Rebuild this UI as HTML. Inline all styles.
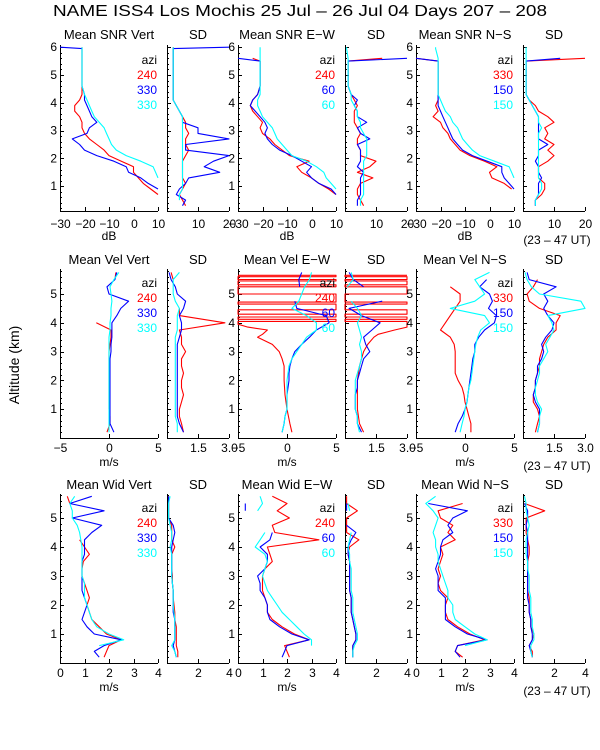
<!DOCTYPE html>
<html><head><meta charset="utf-8"><style>
html,body{margin:0;padding:0;background:#fff;}
svg{display:block;font-family:"Liberation Sans",sans-serif;}
</style></head><body>
<svg id="chart" width="600" height="750" viewBox="0 0 600 750" xmlns="http://www.w3.org/2000/svg">
<rect width="600" height="750" fill="#fff"/>
<text x="53" y="16" font-size="16" textLength="494" lengthAdjust="spacingAndGlyphs">NAME ISS4 Los Mochis  25 Jul – 26 Jul 04 Days 207 – 208</text>
<text transform="translate(19,365) rotate(-90)" font-size="14" text-anchor="middle">Altitude (km)</text>
</svg>
<script>
// ---- altitude grids (km) ----
const altRow1 = [0.3,0.5,0.7,0.9,1.1,1.3,1.5,1.7,1.9,2.1,2.3,2.5,2.7,2.9,3.1,3.3,3.5,3.7,3.9,4.1,4.3,4.6,5.0,5.5,5.6,5.95,6.0];
const altRow2 = [0.2,0.5,0.75,1,1.25,1.5,1.75,2,2.25,2.5,2.75,3,3.25,3.5,3.75,4,4.25,4.5,4.75,5,5.25,5.5,5.75];
const altRow3 = [0.2,0.4,0.6,0.8,1,1.25,1.5,1.75,2,2.25,2.5,2.75,3,3.25,3.5,3.75,4,4.25,4.5,4.75,5,5.25,5.5,5.75];
const altVelEwRed = [0.2,0.5,1,1.5,2,2.5,2.75,3,3.25,3.5,3.6,3.75,3.85,3.95,
  4.05,4.05,4.12,4.12,4.2,4.2,4.3,4.3,4.45,4.45,4.65,4.65,4.72,4.72,5.0,5.0,5.25,5.25,5.32,5.32,5.45,5.45,5.5,5.5,5.6,5.6,5.65,5.65];

// ---- SNR (dB) ----
const snrVertRed  = [8,null,10,7,4,2,0,0,-5,-10,-12,-15,-18,-20,-21,-21,-22,-24,-24,-22,-21,-21,-21,-21,-21,-21,-21];
const snrVertBlue = [10,null,null,10,6,3,-2,-3,-8,-15,-20,-22,-25,-19,-18,-15,-17,-18,-19,-20,-20,-21,-21,-21,-21,-21,-30];
const snrVertCyan = [null,null,null,null,null,10,9,8,3,-3,-7,-9,-10,-11,-12,-14,-16,-17,-18,-19,-20,-21,-21,-21,-21,-21,-21];
const sdSnrVertRed  = [6,5,4,5,6,5,5,5,5,6,7,6,6,7,6,6,5,4,3,2,2,2,2,2,2,2,2];
const sdSnrVertBlue = [5,6,3,4,6,7,17,12,15,20,6,6,20,10,10,5,5,4,3,2,2,2,2,2,2,2,20];
const sdSnrVertCyan = [null,4,4,5,5,5,5,5,5,5,5,5,5,5,5,5,5,4,3,2,2,2,2,2,2,2,2];
const snrEwRed  = [8,null,10,7,3,0,-4,-6,-1,-9,-12,-15,-17,-20,-21,-20,-22,-24,-25,-24,-22,-21,-21,-21,-24,null,null];
const snrEwBlue = [9,null,10,8,3,0,-2,0,-4,-8,-13,-16,-18,-19,-18,-19,-21,-23,-25,-24,-22,-21,-21,-21,-30,null,null];
const snrEwCyan = [null,null,null,10,8,6,5,2,-2,-8,-10,-12,-14,-15,-16,-18,-20,-21,-22,-22,-21,-21,-21,-21,-21,-21,-21];
const sdSnrEwRed  = [6,5,4,4,5,9,4,8,10,5,5,4,4,5,4,3,3,3,4,3,2,1,1,1,12,null,null];
const sdSnrEwBlue = [4,4,5,5,5,5,6,4,5,5,5,4,8,5,4,7,4,4,3,4,2,1,1,1,20,null,null];
const sdSnrEwCyan = [5,5,6,6,6,6,6,6,6,7,7,7,7,6,5,5,4,4,3,2,2,1,1,1,1,0.5,0.5];
const snrNsRed  = [9,null,null,9,6,1,0,3,-2,-8,-12,-14,-16,-17,-19,-20,-23,-21,-22,-21,-21,-21,-21,-21,-30,null,null];
const snrNsBlue = [null,null,null,10,8,6,5,5,-1,-7,-11,-13,-15,-16,-17,-18,-19,-20,-21,-21,-21,-21,-21,-21,-30,null,null];
const snrNsCyan = [null,null,null,null,null,10,9,8,2,-4,-7,-9,-11,-12,-13,-15,-16,-18,-19,-20,-21,-21,-21,-21,-21,-22,-22];
const sdSnrNsRed  = [4,4,6,7,7,5,5,5,8,10,8,10,7,8,7,10,8,5,4,2,1,1,1,1,20,null,null];
const sdSnrNsBlue = [4,4,5,5,5,6,5,5,4,5,5,8,5,5,5,5,5,4,3,2,1,1,1,1,12,null,null];
const sdSnrNsCyan = [4,4,5,6,6,5,5,5,5,5,5,5,5,5,6,5,5,4,3,2,1,1,1,1,1,1,1];

// ---- Velocity (m/s) ----
const velVertRed  = [-0.2,0.1,0.1,0,0,0,0,0,0,0,0,0,0.1,0.2,0.2,-1.3,null,null,null,null,null,0.6,0.7];
const velVertBlue = [0.5,0.1,0.1,0.1,0.1,0.1,0.1,0.1,0.1,0.1,0.1,0.2,0.2,0.3,0.3,0.3,0.8,1.2,2.0,0,-0.2,0.6,0.8];
const velVertCyan = [0,0,0,0,0,0,0,0,0,0,0,0,0,0,0.1,0.1,0.2,0.2,0.3,0.2,0.1,0.5,1.0];
const sdVelVertRed  = [0.8,0.7,0.6,0.6,0.7,0.8,0.7,0.7,0.8,0.7,0.7,0.9,0.7,0.7,0.6,2.8,0.6,0.6,null,null,null,0.3,0.2];
const sdVelVertBlue = [0.8,0.6,0.5,0.5,0.5,0.5,0.5,0.5,0.5,0.5,0.5,0.5,0.5,0.6,0.7,0.7,0.6,0.8,0.9,0.5,0.4,0.2,0.1];
const sdVelVertCyan = [0.5,0.5,0.4,0.4,0.4,0.4,0.4,0.4,0.4,0.4,0.4,0.4,0.4,0.4,0.5,0.5,0.5,0.6,0.4,0.3,0.3,0.3,0.6];
const velEwRed  = [0.5,0.3,0,-0.2,-0.3,-0.3,-0.5,-0.8,-1.5,-3,-2.5,-2,-4,-5,
  -5,5,5,-5,-5,5,5,-5,-5,5,5,-5,-5,5,5,-5,-5,5,5,-5,-5,5,5,-5,-5,5,5,-5];
const velEwBlue = [-0.5,-0.3,-0.2,0,0,0,0.1,0.2,0.2,0.3,0.5,0.8,1.5,2.3,3,4.3,4.0,1.0,0.8,null,1.3,1.2,1.5];
const velEwCyan = [-0.5,-0.3,-0.2,0,0,0,0,0,0.1,0.2,0.5,1.0,1.5,2,3,3,2,0.5,1.2,1.5,1.8,2.3,2.5];
const sdVelEwRed  = [0.9,0.7,0.6,0.6,0.6,0.7,0.8,0.9,1.1,1.4,1.6,2.4,3,3,
  3,0,0,3,3,0,0,3,3,0,0,3,3,0,0,3,3,0,0,3,3,0,0,3,3,0,0,3];
const sdVelEwBlue = [0.8,0.6,0.6,0.5,0.5,0.5,0.6,0.6,0.7,0.8,0.9,1.2,1.0,0.9,1.3,1.7,0.8,0.2,1.8,null,0.9,0.4,0.2];
const sdVelEwCyan = [0.7,0.6,0.6,0.5,0.5,0.5,0.5,0.5,0.6,0.7,0.8,0.8,0.7,0.8,0.7,0.6,0.8,0.6,0.3,null,0.1,0.4,0.3];
const velNsRed  = [0.6,0.6,0.4,0.2,0.0,-0.1,-0.3,-0.7,-1.0,-1.0,-1.0,-1.0,-1.1,-1.5,-2.5,-2,-1.5,-1.0,-0.5,-0.5,-1.5,null,null];
const velNsBlue = [-1,-0.7,-0.3,0,0.2,0.3,0.4,0.5,0.6,0.7,0.8,1.0,1.0,1.4,2.0,3.0,3.2,2.4,2.8,2.5,1.5,2.2,null];
const velNsCyan = [-0.5,-0.3,-0.1,0,0.2,0.3,0.4,0.6,0.7,0.8,0.9,1.0,1.1,1.3,1.6,2.5,2,-1.5,1.0,2.0,1.5,1.0,2.5];
const sdVelNsRed  = [0.6,0.7,0.8,0.7,0.5,0.5,0.6,0.6,0.7,0.8,0.8,0.9,1.0,1.2,1.6,1.6,1.8,0.8,0.3,0.2,0.5,0.7,null];
const sdVelNsBlue = [0.7,0.8,0.8,0.8,0.6,0.5,0.6,0.6,0.7,0.7,0.9,1.0,0.9,1.1,1.4,1.5,1.2,1.0,1.2,1.0,1.6,0.3,0.2];
const sdVelNsCyan = [0.7,0.8,0.8,0.9,0.7,0.6,0.6,0.7,0.8,0.8,1.0,1.2,1.1,1.3,1.5,1.4,1.2,3.0,2.8,0.8,0.4,0.2,0.1];

// ---- Width (m/s) ----
const widVertRed  = [1.8,1.9,2.0,2.5,1.9,1.6,1.3,1.2,1.1,1.2,1.1,1.0,0.9,0.9,0.95,1.2,1.0,0.8,null,null,null,null,0.4,0.3];
const widVertBlue = [1.6,1.4,1.8,2.5,1.4,1.1,0.9,1.0,1.1,1.0,0.9,0.9,0.9,0.9,0.9,1.0,1.0,1.0,1.3,1.7,0.5,1.8,0.4,1.3];
const widVertCyan = [null,null,1.6,2.6,2.0,1.5,1.3,1.2,1.1,1.0,1.0,1.0,0.9,0.9,0.9,0.9,0.9,0.85,0.8,0.7,0.5,0.5,0.4,0.6];
const sdWidVertRed  = [0.7,0.7,0.6,0.6,0.6,0.6,0.5,0.5,0.45,0.4,0.4,0.35,0.35,0.3,0.3,0.3,0.5,0.3,0.3,0.3,0.1,0.1,0.1,0.1];
const sdWidVertBlue = [0.6,0.5,0.4,0.5,0.5,0.5,0.5,0.4,0.4,0.4,0.4,0.35,0.3,0.3,0.3,0.3,0.3,0.4,0.5,0.4,0.1,0.1,0.1,0.1];
const sdWidVertCyan = [0.6,0.5,0.3,0.5,0.5,0.5,0.5,0.45,0.4,0.4,0.4,0.35,0.3,0.3,0.3,0.3,0.2,0.3,0.3,0.2,0.1,0.1,0.1,0.2];
const widEwRed  = [2.1,2.0,1.9,2.9,2.3,1.8,1.4,1.2,1.2,1.1,1.0,1.0,1.0,1.1,1.4,1.3,1.2,3.3,1.5,1.4,2.1,1.6,2.0,1.4];
const widEwBlue = [1.8,1.9,2.0,2.9,2.2,1.7,1.3,1.2,1.2,1.1,0.9,0.9,0.8,1.1,1.2,1.2,0.9,1.3,1.4,null,null,0.3,0.3,null];
const widEwCyan = [null,null,3.0,3.0,2.7,2.4,2.1,1.8,1.6,1.4,1.2,1.1,1.0,1.1,1.2,1.1,0.7,0.9,1.1,null,null,0.8,1.0,0.9];
const sdWidEwRed  = [0.5,0.5,0.5,0.7,0.7,0.6,0.5,0.4,0.4,0.4,0.3,0.3,0.3,0.3,0.3,0.2,0.3,0.9,0.1,0.1,0.1,0.8,0.1,0.1];
const sdWidEwBlue = [0.5,0.5,0.5,0.7,0.7,0.6,0.5,0.4,0.4,0.4,0.3,0.3,0.3,0.3,0.3,0.2,0.2,0.4,0.7,0.1,null,0.1,0.1,null];
const sdWidEwCyan = [0.5,0.5,0.6,0.8,0.8,0.7,0.6,0.5,0.5,0.5,0.4,0.4,0.4,0.4,0.3,0.3,0.2,0.3,0.4,null,null,0.3,0.2,null];
const widNsRed  = [1.9,1.6,1.7,2.8,2.2,1.7,1.3,1.2,1.2,1.3,1.0,0.9,1.0,0.9,1.0,1.1,1.0,1.6,1.3,1.5,1.0,0.9,1.9,null];
const widNsBlue = [1.8,1.6,1.7,2.9,2.1,1.6,1.2,1.2,1.2,1.2,0.9,0.9,0.9,0.8,0.9,1.0,1.0,1.1,1.5,1.3,1.5,2.1,0.5,null];
const widNsCyan = [null,null,2.0,2.9,2.4,2.0,1.6,1.5,1.5,1.3,1.3,1.2,1.1,1.0,0.9,0.9,0.8,0.8,0.7,0.8,0.9,0.7,0.4,0.8];
const sdWidNsRed  = [0.6,0.6,0.4,0.6,0.7,0.5,0.5,0.4,0.4,0.4,0.3,0.3,0.3,0.3,0.3,0.4,0.4,0.3,0.2,0.2,0.2,1.4,0.1,null];
const sdWidNsBlue = [0.6,0.5,0.4,0.6,0.6,0.5,0.5,0.4,0.4,0.3,0.3,0.3,0.3,0.3,0.3,0.3,0.3,0.3,0.3,0.2,0.3,0.3,0.1,null];
const sdWidNsCyan = [0.6,0.5,0.5,0.7,0.7,0.6,0.6,0.5,0.5,0.5,0.4,0.4,0.4,0.3,0.3,0.2,0.2,0.2,0.3,0.4,0.3,0.2,0.2,0.1];

const legendAziVert = ['240','330','330'];
const legendAziEw = ['240','60','60'];
const legendAziNs = ['330','150','150'];

const svg = document.getElementById('chart');
const NS = 'http://www.w3.org/2000/svg';
const COLORS = ['#ff0000','#0000ff','#00ffff'];
function mk(tag, attrs, parent, text) {
  const e = document.createElementNS(NS, tag);
  for (const k in attrs) e.setAttribute(k, attrs[k]);
  if (text !== undefined) e.textContent = text;
  (parent || svg).appendChild(e);
  return e;
}

const rows = [
  {name:'snr', y0:214, k:27.8, top:45, bot:211, maxKm:6, tickY:228, unitY:240, unit:'dB', titleY:39, legY:64},
  {name:'vel', y0:438, k:28.8, top:269, bot:438, maxKm:5, tickY:452, unitY:466, unit:'m/s', titleY:264, legY:287},
  {name:'wid', y0:663, k:29.0, top:494, bot:663, maxKm:5, tickY:677, unitY:691, unit:'m/s', titleY:489, legY:512}
];
const cols = [[60,158],[167,229],[238,336],[345,407],[416,514],[523,585]];

const panels = [
  {row:0,col:0,title:'Mean SNR Vert',xmin:-30,xmax:10,ticks:[-30,-20,-10,0,10],labels:['−30','−20','−10','0','10'],series:[[altRow1,snrVertRed],[altRow1,snrVertBlue],[altRow1,snrVertCyan]],leg:legendAziVert},
  {row:0,col:1,title:'SD',xmin:0,xmax:20,ticks:[0,10,20],labels:['','10','20'],series:[[altRow1,sdSnrVertRed],[altRow1,sdSnrVertBlue],[altRow1,sdSnrVertCyan]]},
  {row:0,col:2,title:'Mean SNR E−W',xmin:-30,xmax:10,ticks:[-30,-20,-10,0,10],labels:['−30','−20','−10','0','10'],series:[[altRow1,snrEwRed],[altRow1,snrEwBlue],[altRow1,snrEwCyan]],leg:legendAziEw},
  {row:0,col:3,title:'SD',xmin:0,xmax:20,ticks:[0,10,20],labels:['','10','20'],series:[[altRow1,sdSnrEwRed],[altRow1,sdSnrEwBlue],[altRow1,sdSnrEwCyan]]},
  {row:0,col:4,title:'Mean SNR N−S',xmin:-30,xmax:10,ticks:[-30,-20,-10,0,10],labels:['−30','−20','−10','0','10'],series:[[altRow1,snrNsRed],[altRow1,snrNsBlue],[altRow1,snrNsCyan]],leg:legendAziNs},
  {row:0,col:5,title:'SD',xmin:0,xmax:20,ticks:[0,10,20],labels:['','10','20'],series:[[altRow1,sdSnrNsRed],[altRow1,sdSnrNsBlue],[altRow1,sdSnrNsCyan]],ut:true},
  {row:1,col:0,title:'Mean Vel Vert',xmin:-5,xmax:5,ticks:[-5,0,5],labels:['−5','0','5'],series:[[altRow2,velVertRed],[altRow2,velVertBlue],[altRow2,velVertCyan]],leg:legendAziVert},
  {row:1,col:1,title:'SD',xmin:0,xmax:3,ticks:[0,1.5,3],labels:['','1.5','3.0'],series:[[altRow2,sdVelVertRed],[altRow2,sdVelVertBlue],[altRow2,sdVelVertCyan]]},
  {row:1,col:2,title:'Mean Vel E−W',xmin:-5,xmax:5,ticks:[-5,0,5],labels:['−5','0','5'],series:[[altVelEwRed,velEwRed],[altRow2,velEwBlue],[altRow2,velEwCyan]],leg:legendAziEw},
  {row:1,col:3,title:'SD',xmin:0,xmax:3,ticks:[0,1.5,3],labels:['','1.5','3.0'],series:[[altVelEwRed,sdVelEwRed],[altRow2,sdVelEwBlue],[altRow2,sdVelEwCyan]]},
  {row:1,col:4,title:'Mean Vel N−S',xmin:-5,xmax:5,ticks:[-5,0,5],labels:['−5','0','5'],series:[[altRow2,velNsRed],[altRow2,velNsBlue],[altRow2,velNsCyan]],leg:legendAziNs},
  {row:1,col:5,title:'SD',xmin:0,xmax:3,ticks:[0,1.5,3],labels:['','1.5','3.0'],series:[[altRow2,sdVelNsRed],[altRow2,sdVelNsBlue],[altRow2,sdVelNsCyan]],ut:true},
  {row:2,col:0,title:'Mean Wid Vert',xmin:0,xmax:4,ticks:[0,1,2,3,4],labels:['0','1','2','3','4'],series:[[altRow3,widVertRed],[altRow3,widVertBlue],[altRow3,widVertCyan]],leg:legendAziVert},
  {row:2,col:1,title:'SD',xmin:0,xmax:4,ticks:[0,2,4],labels:['','2','4'],series:[[altRow3,sdWidVertRed],[altRow3,sdWidVertBlue],[altRow3,sdWidVertCyan]]},
  {row:2,col:2,title:'Mean Wid E−W',xmin:0,xmax:4,ticks:[0,1,2,3,4],labels:['0','1','2','3','4'],series:[[altRow3,widEwRed],[altRow3,widEwBlue],[altRow3,widEwCyan]],leg:legendAziEw},
  {row:2,col:3,title:'SD',xmin:0,xmax:4,ticks:[0,2,4],labels:['','2','4'],series:[[altRow3,sdWidEwRed],[altRow3,sdWidEwBlue],[altRow3,sdWidEwCyan]]},
  {row:2,col:4,title:'Mean Wid N−S',xmin:0,xmax:4,ticks:[0,1,2,3,4],labels:['0','1','2','3','4'],series:[[altRow3,widNsRed],[altRow3,widNsBlue],[altRow3,widNsCyan]],leg:legendAziNs},
  {row:2,col:5,title:'SD',xmin:0,xmax:4,ticks:[0,2,4],labels:['','2','4'],series:[[altRow3,sdWidNsRed],[altRow3,sdWidNsBlue],[altRow3,sdWidNsCyan]],ut:true}
];

panels.forEach(function(p, pi){
  const R = rows[p.row];
  const x0 = cols[p.col][0], x1 = cols[p.col][1];
  const xs = function(v){ v = Math.max(p.xmin, Math.min(p.xmax, v)); return x0 + (v - p.xmin) / (p.xmax - p.xmin) * (x1 - x0); };
  const ys = function(h){ return Math.max(R.top, Math.min(R.bot, R.y0 - R.k * h)); };
  const g = mk('g', {});
  
  
  const t = mk('text', {x:(x0+x1)/2, y:R.titleY, 'font-size':13, 'text-anchor':'middle'}, g, p.title);
  
  
  const ax = mk('path', {d:'M'+(x0+0.5)+' '+R.top+' V'+(R.bot+0.5)+' H'+x1, stroke:'#000', fill:'none', 'stroke-width':1}, g);
  
  
  let td = '';
  for (let h = 0.2; h <= R.maxKm + 0.95; h += 0.2) {
    const hh = Math.round(h * 10) / 10;
    const y = R.y0 - R.k * hh;
    if (y < R.top || y > R.bot) continue;
    const major = Math.abs(hh - Math.round(hh)) < 0.01;
    td += 'M'+x0+' '+(Math.round(y)+0.5)+' h'+(major?4:2)+' ';
    if (major && p.col % 2 === 0) {
      const lb = mk('text', {x:x0-3, y:y+4, 'font-size':12, 'text-anchor':'end'}, g, String(Math.round(hh)));
      
      
    }
  }
  p.ticks.forEach(function(v, i){
    const x = Math.round(xs(v)) + 0.5;
    td += 'M'+x+' '+R.bot+' v-4 ';
    if (p.labels[i]) {
      const lb = mk('text', {x:x, y:R.tickY, 'font-size':12, 'text-anchor':'middle'}, g, p.labels[i]);
      
      
    }
  });
  const tk = mk('path', {d:td, stroke:'#000', 'stroke-width':1, fill:'none'}, g);
  
  
  if (p.col % 2 === 0) {
    const u = mk('text', {x:(x0+x1)/2, y:R.unitY, 'font-size':12, 'text-anchor':'middle'}, g, R.unit);
    
    
  }
  if (p.ut) {
    const u = mk('text', {x:557, y:R.unitY + 4, 'font-size':12, 'text-anchor':'middle'}, g, '(23 – 47 UT)');
    
    
  }
  p.series.forEach(function(s, si){
    const alt = s[0], vals = s[1];
    let d = '', pen = false;
    for (let i = 0; i < vals.length && i < alt.length; i++) {
      if (vals[i] === null || vals[i] === undefined) { pen = false; continue; }
      const x = xs(vals[i]).toFixed(1), y = ys(alt[i]).toFixed(1);
      d += (pen ? 'L' : 'M') + x + ' ' + y + ' ';
      pen = true;
    }
    const ln = mk('path', {d:d, stroke:COLORS[si], 'stroke-width':1.1, fill:'none', 'stroke-linejoin':'round'}, g);
    
    
  });
  if (p.leg) {
    const lx = x1 - 1;
    const a = mk('text', {x:lx, y:R.legY, 'font-size':12, 'text-anchor':'end'}, g, 'azi');
    
    
    p.leg.forEach(function(txt, i){
      const e = mk('text', {x:lx, y:R.legY + 15*(i+1), 'font-size':12, 'text-anchor':'end', fill:COLORS[i]}, g, txt);
      
      
    });
  }
});
</script>
</body></html>
